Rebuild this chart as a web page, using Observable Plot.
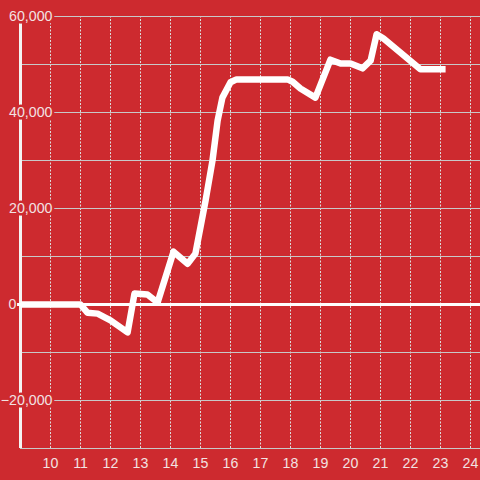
<!DOCTYPE html>
<html>
<head>
<meta charset="utf-8">
<script src="https://cdn.jsdelivr.net/npm/d3@7"></script>
<script src="https://cdn.jsdelivr.net/npm/@observablehq/plot@0.6"></script>
<style>
  html, body { margin: 0; padding: 0; background: #cd2a2f; }
  #chart { width: 480px; height: 480px; }
</style>
</head>
<body>
<div id="chart"></div>
<script>
const xValues = [9, 11, 11.23, 11.57, 12, 12.57, 12.8, 13.23, 13.57, 14.1, 14.57, 14.83, 15.17, 15.4, 15.57, 15.73, 16, 16.2, 17.9, 18.07, 18.33, 18.83, 19.33, 19.67, 20, 20.4, 20.67, 20.87, 21.1, 22.33, 23.17];
const yValues = [0, 0, -1700, -1900, -3300, -5800, 2300, 2100, 400, 11000, 8500, 10600, 21700, 30000, 38300, 43100, 46300, 46900, 46900, 46400, 45000, 43100, 51000, 50200, 50200, 49200, 50800, 56300, 55400, 49000, 49000];
const xTicks = [10, 11, 12, 13, 14, 15, 16, 17, 18, 19, 20, 21, 22, 23, 24];
const yGrid = [-30000, -20000, -10000, 0, 10000, 20000, 30000, 40000, 50000, 60000];
const yLabels = [-20000, 20000, 40000, 60000];
const yZeroLabel = [0];

const data = xValues.map((x, i) => ({x, y: yValues[i]}));
const red = "#cd2a2f";
const textColor = "#f2e2e2";
const fmt = d3.format(",");

const chart = Plot.plot({
  width: 480,
  height: 480,
  marginLeft: 20,
  marginRight: 0,
  marginTop: 16,
  marginBottom: 32,
  style: {background: red, fontFamily: "'Liberation Sans', Arial, sans-serif"},
  x: {domain: [9, 24.333], axis: null},
  y: {domain: [-30000, 60000], axis: null},
  marks: [
    Plot.ruleX(xTicks, {y1: -30000, y2: 60000, stroke: "#dcdcdc", strokeWidth: 1, strokeDasharray: "2,1.5"}),
    Plot.ruleY(yGrid, {stroke: "#c8c8c8", strokeWidth: 1}),
    Plot.ruleX([9], {y1: -30000, y2: 60000, stroke: "#f4f4f4", strokeWidth: 3}),
    Plot.ruleY([0], {x1: 8.9, x2: 24.333, stroke: "white", strokeWidth: 3}),
    Plot.line(data, {x: "x", y: "y", stroke: "white", strokeWidth: 6.5, strokeLinecap: "butt", strokeLinejoin: "round"}),
    Plot.text(yLabels, {y: d => d, text: d => fmt(d), frameAnchor: "left", dx: 32, textAnchor: "end",
      fill: textColor, stroke: red, strokeWidth: 5, fontSize: 14.2}),
    Plot.text(yZeroLabel, {y: d => d, text: d => fmt(d), frameAnchor: "left", dx: -4, textAnchor: "end",
      fill: textColor, stroke: red, strokeWidth: 2, fontSize: 14.2}),
    Plot.text(xTicks, {x: d => d, text: d => String(d), frameAnchor: "bottom", dy: 19,
      fill: textColor, fontSize: 14.2})
  ]
});
document.getElementById("chart").appendChild(chart);
</script>
</body>
</html>
